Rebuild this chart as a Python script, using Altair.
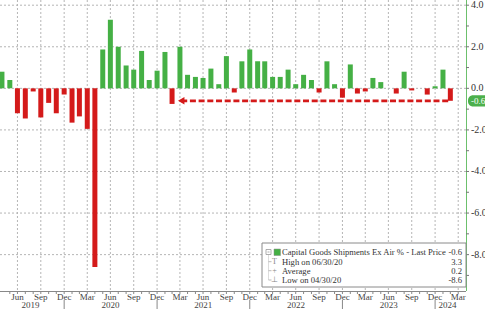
import altair as alt
import pandas as pd

# ---------------- data ----------------
values = [
    0.8, 0.4, -1.2, -1.45, -0.15, -1.4, -0.7, -1.2, -0.3,                 # 2019 Apr-Dec
    -1.65, -1.35, -1.95, -8.6, 1.87, 3.3, 2.0, 1.1, 0.9, 1.8, 0.4, 0.85,   # 2020
    1.75, -0.75, 2.0, 0.65, 0.55, 0.5, 0.95, 0.2, 1.55, -0.2, 1.3, 1.87,   # 2021
    1.3, 1.3, 0.55, 0.55, 0.9, 0.2, 0.65, 0.4, -0.2, 1.3, 0.2, -0.45,      # 2022
    1.15, -0.25, -0.15, 0.5, 0.3, 0.0, -0.25, 0.8, -0.1, 0.0, -0.3, 0.1,   # 2023
    0.9, -0.6,                                                             # 2024 Jan-Feb
]
first_month = "2019-04-30"
year_labels = ["2019", "2020", "2021", "2022", "2023", "2024"]
year_label_dates = ["2019-08-20", "2020-07-01", "2021-07-01", "2022-07-01", "2023-07-01", "2024-02-18"]
year_breaks = ["2019-12-31", "2020-12-31", "2021-12-31", "2022-12-31", "2023-12-31"]
y_grid = [-8, -6, -4, -2, 0, 2, 4]
y_labels = ["-8.0", "-6.0", "-4.0", "-2.0", "0.0", "2.0", "4.0"]
y_ticks = list(range(-9, 5))
x_domain = ["2019-05-12", "2024-04-11"]
arrow_tip_date = "2021-04-05"
arrow_end_date = "2024-02-22"
last_value = -0.6

legend_title = "Capital Goods Shipments Ex Air % - Last Price"
legend_rows = ["High on 06/30/20", "Average", "Low on 04/30/20"]
legend_values = ["-0.6", "3.3", "0.2", "-8.6"]
legend_icons = ["T", "+", "\u22a5"]

# ---------------- styling ----------------
GREEN = "#45b045"
RED = "#d41a1a"
GRID = "#b5b5b5"
FONT = "Liberation Sans Narrow"
W, H = 466, 291


def ms(d):
    return int(pd.Timestamp(d).value // 10**6)


months = pd.date_range(first_month, periods=len(values), freq=pd.offsets.MonthEnd())
df = pd.DataFrame({"date": [ms(m) for m in months], "value": values})

all_month_ends = pd.date_range("2019-05-31", "2024-03-31", freq=pd.offsets.MonthEnd())
month_ticks = [ms(m) for m in all_month_ends]
q_dates = [m for m in all_month_ends if m.month in (3, 6, 9, 12)]
quarter_ends = [ms(m) for m in q_dates]
quarter_labels = [m.strftime("%b") for m in q_dates]

xscale = alt.Scale(type="utc", domain=[ms(x_domain[0]), ms(x_domain[1])])
yscale = alt.Scale(domain=[-9.75, 4.25], nice=False, zero=False)


def X(f):
    return alt.X(f, scale=xscale, axis=None)


def Y(f):
    return alt.Y(f, scale=yscale, axis=None)


one = pd.DataFrame({"a": [0]})

# gridlines
vgrid = alt.Chart(pd.DataFrame({"t": quarter_ends})).mark_rule(
    color=GRID, strokeDash=[2, 2], strokeWidth=1
).encode(x=X("t:T"), y=alt.value(0), y2=alt.value(H))

hgrid = alt.Chart(pd.DataFrame({"v": y_grid})).mark_rule(
    color=GRID, strokeDash=[2, 2], strokeWidth=1
).encode(y=Y("v:Q"), x=alt.value(0), x2=alt.value(W))

bars = alt.Chart(df).mark_bar(size=5).encode(
    x=X("date:T"),
    y=Y("value:Q"),
    color=alt.condition("datum.value >= 0", alt.value(GREEN), alt.value(RED)),
)

# x axis (drawn by hand through the scale)
x_domain_line = alt.Chart(one).mark_rule(color="#888", strokeWidth=1).encode(
    x=alt.value(0), x2=alt.value(W), y=alt.value(H + 0.5))
x_ticks = alt.Chart(pd.DataFrame({"t": month_ticks})).mark_rule(color="#888", strokeWidth=1).encode(
    x=X("t:T"), y=alt.value(H), y2=alt.value(H + 3))
x_labels = alt.Chart(pd.DataFrame({"t": quarter_ends, "s": quarter_labels})).mark_text(
    fontSize=9, font=FONT, color="#444", baseline="middle"
).encode(x=X("t:T"), y=alt.value(H + 5.5), text="s:N")

# y axis (right)
y_domain_line = alt.Chart(one).mark_rule(color="#6cc06c", strokeWidth=1).encode(
    x=alt.value(W + 0.5), y=alt.value(0), y2=alt.value(H))
y_tick_marks = alt.Chart(pd.DataFrame({"v": y_ticks})).mark_rule(color="#777", strokeWidth=1).encode(
    y=Y("v:Q"), x=alt.value(W), x2=alt.value(W + 3))
y_label_marks = alt.Chart(pd.DataFrame({"v": y_grid, "s": y_labels})).mark_text(
    fontSize=10, font=FONT, color="#333", align="left", baseline="middle"
).encode(y=Y("v:Q"), x=alt.value(W + 5), text="s:N")

# arrow
arrow_df = pd.DataFrame({"t": [ms(arrow_tip_date)], "t2": [ms(arrow_end_date)], "v": [last_value]})
arrow_line = alt.Chart(arrow_df).mark_rule(
    color=RED, strokeDash=[6, 2.7], strokeWidth=2.8
).encode(x=X("t:T"), x2="t2:T", y=Y("v:Q"))
arrow_head = alt.Chart(arrow_df).mark_point(
    shape="triangle-left", filled=True, color=RED, size=55, opacity=1
).encode(x=X("t:T"), y=Y("v:Q"))

# year labels & separators
years = alt.Chart(pd.DataFrame({"t": [ms(d) for d in year_label_dates], "y": year_labels})).mark_text(
    fontSize=9, font=FONT, color="#444", baseline="middle"
).encode(x=X("t:T"), y=alt.value(H + 14), text="y:N")
ybreaks = alt.Chart(pd.DataFrame({"t": [ms(d) for d in year_breaks]})).mark_rule(
    color="#888", strokeWidth=1
).encode(x=X("t:T"), y=alt.value(H + 9), y2=alt.value(H + 18))

# last value pill
pill_df = pd.DataFrame({"v": [last_value], "lo": [last_value - 0.27], "hi": [last_value + 0.27],
                        "s": [legend_values[0]]})
pill = alt.Chart(pill_df).mark_rect(color="#4cb04c", cornerRadius=5).encode(
    x=alt.value(W + 2), x2=alt.value(W + 30), y=Y("hi:Q"), y2="lo:Q")
pill_txt = alt.Chart(pill_df).mark_text(
    color="white", fontSize=9, font=FONT, align="left", baseline="middle"
).encode(x=alt.value(W + 5), y=Y("v:Q"), text="s:N")


# legend
def txt(s, x, y, size=8.6, color="#333", align="left"):
    return alt.Chart(one).mark_text(
        text=s, align=align, baseline="middle", fontSize=size, color=color, font=FONT
    ).encode(x=alt.value(x), y=alt.value(y))


def box(x, x2, y, y2, **kw):
    return alt.Chart(one).mark_rect(**kw).encode(
        x=alt.value(x), x2=alt.value(x2), y=alt.value(y), y2=alt.value(y2))


def line(x, x2, y, y2, **kw):
    return alt.Chart(one).mark_rule(**kw).encode(
        x=alt.value(x), x2=alt.value(x2), y=alt.value(y), y2=alt.value(y2))


LX, LX2, LY, LY2 = 262, 466, 243, 287
row_y = [252.3, 261.7, 270.7, 280]
legend = [
    box(LX, LX2, LY, LY2, fill="white", stroke="#8a8a8a", strokeWidth=1),
    box(266, 271, 249.5, 254.5, fill="white", stroke="#999", strokeWidth=0.8),
    line(267.5, 269.5, 252, 252, color="#999", strokeWidth=0.8),
    line(268.5, 268.5, 254.5, 280, color="#aaa", strokeWidth=0.8, strokeDash=[1, 1]),
    box(274, 280.5, 249, 255.5, fill=GREEN, stroke="#888", strokeWidth=0.5),
    txt(legend_title, 282, row_y[0]),
    txt(legend_values[0], 462, row_y[0], align="right"),
]
for i in range(3):
    legend.append(line(268.5, 271.5, row_y[i + 1], row_y[i + 1], color="#aaa", strokeWidth=0.8))
    legend.append(txt(legend_icons[i], 274.5, row_y[i + 1], size=8, color="#888", align="center"))
    legend.append(txt(legend_rows[i], 282, row_y[i + 1]))
    legend.append(txt(legend_values[i + 1], 462, row_y[i + 1], align="right"))

chart = alt.layer(
    vgrid, hgrid, bars, arrow_line, arrow_head,
    x_domain_line, x_ticks, x_labels, years, ybreaks,
    y_domain_line, y_tick_marks, y_label_marks,
    *legend, pill, pill_txt
).properties(
    width=W, height=H,
    padding={"left": 0, "top": 0, "right": 485 - W, "bottom": 309 - H},
    autosize=alt.AutoSizeParams(type="none"),
    background="white",
).configure_view(stroke=None)

chart.save("out.html", embed_options={"renderer": "svg", "actions": False})
